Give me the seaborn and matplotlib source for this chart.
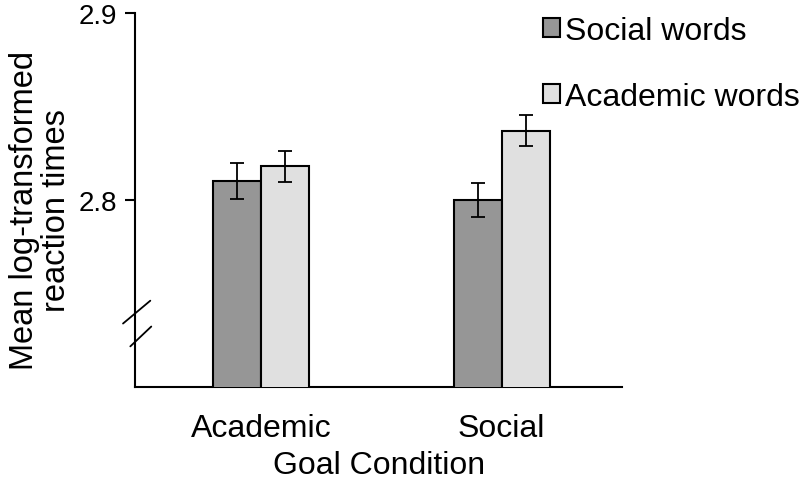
import pandas as pd
import numpy as np
import matplotlib
matplotlib.use("Agg")
import matplotlib.pyplot as plt
import matplotlib.transforms as mtransforms
import seaborn as sns

# values
goal_conditions = ["Academic", "Social"]
word_types = ["Social words", "Academic words"]
mean_social_words = [2.810, 2.800]
mean_academic_words = [2.818, 2.837]
err_social_words = [0.0095, 0.009]
err_academic_words = [0.0083, 0.0082]

df = pd.DataFrame({
    "Goal": goal_conditions * 2,
    "Words": [word_types[0]] * 2 + [word_types[1]] * 2,
    "RT": mean_social_words + mean_academic_words,
    "err": err_social_words + err_academic_words,
})

sns.set_theme(style="white")
plt.rcParams['font.family'] = ['Liberation Sans', 'DejaVu Sans']
plt.rcParams['text.color'] = 'black'
plt.rcParams['axes.labelcolor'] = 'black'
plt.rcParams['xtick.color'] = 'black'
plt.rcParams['ytick.color'] = 'black'

colors = {'Social words': '#969696', 'Academic words': '#e0e0e0'}

fig = plt.figure(figsize=(8, 4.85), dpi=100)
ax = fig.add_axes([0.169, 0.2, 0.609, 0.772])

sns.barplot(data=df, x="Goal", y="RT", hue="Words", order=goal_conditions,
            hue_order=word_types, palette=colors, errorbar=None, width=0.4,
            edgecolor='black', linewidth=1.5, ax=ax, legend=True)

# error bars at the bar centres
for cont, wt in zip(ax.containers, word_types):
    sub = df[df["Words"] == wt].set_index("Goal").loc[goal_conditions]
    xs = [p.get_x() + p.get_width() / 2 for p in cont.patches]
    ax.errorbar(xs, sub["RT"].values, yerr=sub["err"].values, fmt='none',
                ecolor='black', elinewidth=1.3, capsize=5, capthick=1.3)

ax.set_ylim(2.7, 2.9)
ax.set_xlim(-0.523, 1.502)
ax.set_yticks([2.8, 2.9])
ax.set_yticklabels(["2.8", "2.9"])
ax.tick_params(axis='y', length=7, width=1.5, color='black', labelsize=20, pad=6, left=True)
ax.tick_params(axis='x', length=0, labelsize=23, pad=19)
for s in ['top', 'right']:
    ax.spines[s].set_visible(False)
for s in ['left', 'bottom']:
    ax.spines[s].set_color('black')
    ax.spines[s].set_linewidth(1.5)
ax.spines['bottom'].set_zorder(0)

ax.set_xlabel("Goal Condition", fontsize=23, labelpad=5)
ax.set_ylabel("Mean log-transformed\nreaction times", fontsize=23.5, linespacing=1.05)
ax.yaxis.set_label_coords(-0.13, 0.475)

# axis break marks
trans = mtransforms.blended_transform_factory(ax.transAxes, ax.transData)
ax.plot([-0.025, 0.031], [2.7339, 2.7461], color='black', lw=1.3, transform=trans, clip_on=False)
ax.plot([-0.010, 0.033], [2.7217, 2.7323], color='black', lw=1.3, transform=trans, clip_on=False)

leg = ax.legend(loc='upper left', bbox_to_anchor=(0.81, 1.025), frameon=False,
                fontsize=23, handlelength=0.56, handleheight=0.56, handletextpad=0.15,
                labelspacing=1.12, borderaxespad=0)

fig.savefig("out.png", dpi=100)
